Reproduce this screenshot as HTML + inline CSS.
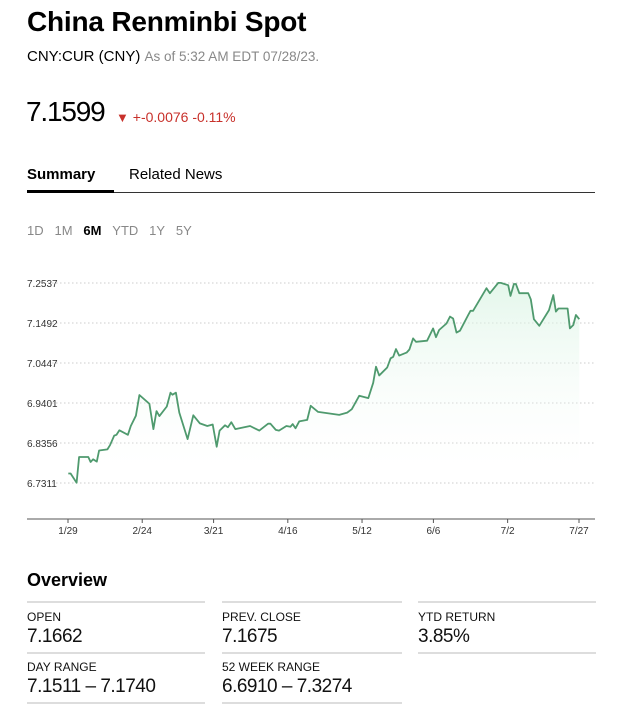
<!DOCTYPE html>
<html><head><meta charset="utf-8">
<style>
body{margin:0;width:624px;height:715px;background:#fff;font-family:"Liberation Sans",Arial,sans-serif;color:#000;position:relative;overflow:hidden}
.a{position:absolute;white-space:nowrap}
.lbl{font-size:12px;color:#111}
.val{font-size:19px;color:#111;letter-spacing:-0.5px}
.hr{position:absolute;height:2px;background:#ddd}
</style></head><body>
<div class="a" style="left:27px;top:6px;font-size:28px;font-weight:bold;letter-spacing:-0.2px">China Renminbi Spot</div>
<div class="a" style="left:27px;top:48px;font-size:15px">CNY:CUR (CNY) <span style="color:#888;font-size:13.5px">As of 5:32 AM EDT 07/28/23.</span></div>
<div class="a" style="left:26px;top:96px;font-size:28px;letter-spacing:-1.2px">7.1599</div>
<div class="a" style="left:116px;top:109px;font-size:14px;color:#c8312b"><span style="font-size:13px">▼</span> +-0.0076 -0.11%</div>
<div class="a" style="left:27px;top:166px;font-size:15px;font-weight:bold">Summary</div>
<div class="a" style="left:129px;top:166px;font-size:15px">Related News</div>
<div class="a" style="left:27px;top:192px;width:568px;height:1px;background:#333"></div>
<div class="a" style="left:27px;top:190px;width:87px;height:3px;background:#000"></div>
<div class="a" style="left:27px;top:223px;font-size:13px;color:#888;word-spacing:0">
<span>1D</span>&nbsp;&nbsp;&nbsp;<span>1M</span>&nbsp;&nbsp;&nbsp;<span style="color:#000;font-weight:bold">6M</span>&nbsp;&nbsp;&nbsp;<span>YTD</span>&nbsp;&nbsp;&nbsp;<span>1Y</span>&nbsp;&nbsp;&nbsp;<span>5Y</span></div>
<svg id="chart" class="a" style="left:0;top:0" width="624" height="560"></svg>
<div class="a" style="left:27px;top:570px;font-size:18px;font-weight:bold">Overview</div>
<div class="hr" style="left:27px;top:601px;width:178px"></div>
<div class="hr" style="left:222px;top:601px;width:180px"></div>
<div class="hr" style="left:418px;top:601px;width:178px"></div>
<div class="a lbl" style="left:27px;top:610px">OPEN</div>
<div class="a val" style="left:27px;top:626px">7.1662</div>
<div class="a lbl" style="left:222px;top:610px">PREV. CLOSE</div>
<div class="a val" style="left:222px;top:626px">7.1675</div>
<div class="a lbl" style="left:418px;top:610px">YTD RETURN</div>
<div class="a val" style="left:418px;top:626px">3.85%</div>
<div class="hr" style="left:27px;top:652px;width:178px"></div>
<div class="hr" style="left:222px;top:652px;width:180px"></div>
<div class="hr" style="left:418px;top:652px;width:178px"></div>
<div class="a lbl" style="left:27px;top:660px">DAY RANGE</div>
<div class="a val" style="left:27px;top:676px">7.1511 – 7.1740</div>
<div class="a lbl" style="left:222px;top:660px">52 WEEK RANGE</div>
<div class="a val" style="left:222px;top:676px">6.6910 – 7.3274</div>
<div class="hr" style="left:27px;top:702px;width:178px"></div>
<div class="hr" style="left:222px;top:702px;width:180px"></div>
<script>
const days=[0.1,0.9,3.0,3.9,7.1,7.9,8.8,10.1,10.9,13.8,14.7,16.2,17.0,18.0,21.0,22.0,23.8,25.0,28.5,29.9,31.0,32.0,34.6,35.9,36.6,37.8,39.0,41.9,43.9,46.2,48.8,50.7,52.1,53.1,55.0,56.0,57.2,58.6,63.8,67.0,70.1,70.9,72.8,73.9,76.5,77.9,78.7,79.7,81.0,83.8,85.0,87.6,95.0,97.8,99.4,102.0,105.2,106.9,107.9,109.0,111.8,113.0,113.9,114.9,116.0,118.6,119.6,120.9,121.9,125.8,127.9,128.9,130.0,132.6,133.8,134.9,136.1,137.3,140.2,141.0,141.9,146.6,147.8,150.7,151.6,154.2,155.0,156.2,156.9,158.1,161.2,162.1,163.2,165.1,168.5,170.0,170.9,171.8,175.0,175.8,177.0,177.9,179.1];
const prices=[6.756,6.756,6.732,6.799,6.799,6.786,6.793,6.787,6.816,6.819,6.830,6.855,6.857,6.869,6.857,6.880,6.907,6.961,6.938,6.872,6.919,6.906,6.931,6.967,6.962,6.967,6.915,6.846,6.908,6.887,6.880,6.884,6.826,6.868,6.882,6.877,6.890,6.872,6.880,6.868,6.886,6.886,6.870,6.868,6.880,6.878,6.885,6.874,6.892,6.896,6.933,6.917,6.909,6.915,6.924,6.959,6.953,6.993,7.035,7.012,7.033,7.057,7.061,7.081,7.064,7.072,7.080,7.109,7.100,7.103,7.135,7.112,7.131,7.148,7.166,7.161,7.124,7.129,7.170,7.181,7.181,7.240,7.227,7.254,7.254,7.248,7.220,7.251,7.251,7.227,7.227,7.211,7.159,7.142,7.183,7.222,7.179,7.187,7.187,7.135,7.144,7.170,7.159];
const yTicks=[7.2537,7.1492,7.0447,6.9401,6.8356,6.7311];
const xTickDays=[0,26,51,77,103,128,154,179];
const xTickLabels=["1/29","2/24","3/21","4/16","5/12","6/6","7/2","7/27"];
const NS="http://www.w3.org/2000/svg";
const svg=document.getElementById('chart');
const x=d=>68+d*(579-68)/179;
const y=v=>283+(7.2537-v)/0.1045*40;
function mk(t,a){const e=document.createElementNS(NS,t);for(const k in a)e.setAttribute(k,a[k]);svg.appendChild(e);return e;}
const defs=mk('defs',{});
defs.innerHTML='<linearGradient id="g" x1="0" y1="0" x2="0" y2="1"><stop offset="0" stop-color="#d8f3e2" stop-opacity="0.7"/><stop offset="1" stop-color="#ffffff" stop-opacity="0"/></linearGradient>';
yTicks.forEach(v=>{
  const l=mk('line',{x1:48,x2:595,y1:y(v),y2:y(v),stroke:'#ccc','stroke-dasharray':'1.5,2.5','stroke-width':1});
  
  
  const t=mk('text',{x:27,y:y(v)+4,'font-size':10,fill:'#333','font-family':'Liberation Sans, sans-serif'});
  t.textContent=v.toFixed(4);
  
  
});
const ax=mk('line',{x1:27,x2:595,y1:519,y2:519,stroke:'#555','stroke-width':1});


xTickDays.forEach((d,i)=>{
  mk('line',{x1:x(d),x2:x(d),y1:519,y2:523,stroke:'#555'});
  const t=mk('text',{x:x(d),y:534,'font-size':10,fill:'#333','text-anchor':'middle','font-family':'Liberation Sans, sans-serif'});
  t.textContent=xTickLabels[i];
  
  
});
let p=days.map((d,i)=>x(d).toFixed(1)+','+y(prices[i]).toFixed(1)).join(' L');
const area=mk('path',{d:'M'+p+' L'+x(days[days.length-1])+',470 L'+x(days[0])+',470 Z',fill:'url(#g)'});


const line=mk('path',{d:'M'+p,fill:'none',stroke:'#4f9a6e','stroke-width':1.8,'stroke-linejoin':'round'});


</script>
</body></html>
